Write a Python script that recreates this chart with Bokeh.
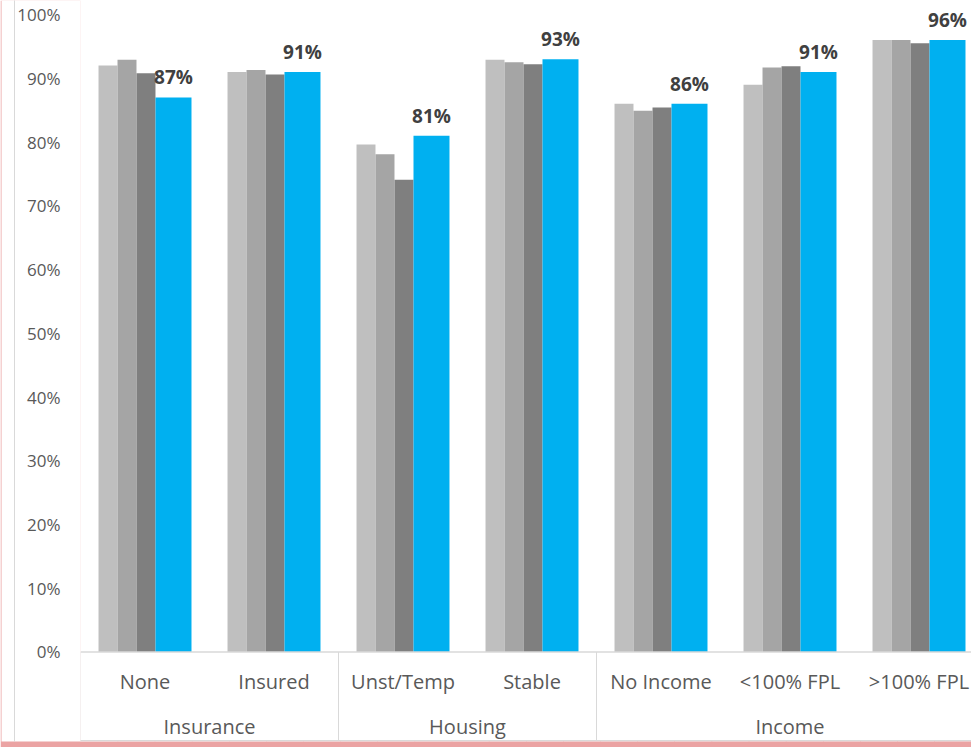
from bokeh.plotting import figure
from bokeh.models import (ColumnDataSource, FixedTicker, NumeralTickFormatter, Range1d,
                          Span, BoxAnnotation, LinearAxis)
from bokeh.transform import dodge
from bokeh.core.properties import value
from bokeh.embed import file_html
from bokeh.resources import INLINE

# ---------------- data ----------------
categories = ["None", "Insured", "Unst/Temp", "Stable", "No Income", "<100% FPL", ">100% FPL"]
groups = ["Insurance", "Housing", "Income"]
group_sizes = [2, 2, 3]
series_1 = [0.920, 0.910, 0.796, 0.929, 0.860, 0.890, 0.960]
series_2 = [0.929, 0.913, 0.781, 0.925, 0.849, 0.917, 0.960]
series_3 = [0.908, 0.906, 0.741, 0.922, 0.854, 0.919, 0.955]
series_4 = [0.87, 0.91, 0.81, 0.93, 0.86, 0.91, 0.96]
y_ticks = [0.0, 0.1, 0.2, 0.3, 0.4, 0.5, 0.6, 0.7, 0.8, 0.9, 1.0]

# ---------------- styles ----------------
GRAY1, GRAY2, GRAY3, BLUE = "#BFBFBF", "#A5A5A5", "#7F7F7F", "#00B0F0"
LINE = "#D9D9D9"
PINK_L = (235, 163, 163)
PINK_R = (224, 116, 116)
FONT = value("Open Sans")

def hexc(c):
    return "#%02X%02X%02X" % tuple(int(round(v)) for v in c)

idx = list(range(len(categories)))
src = ColumnDataSource(dict(
    x=idx, cat=categories, s1=series_1, s2=series_2, s3=series_3, s4=series_4,
    lab=["{:.0f}%".format(v * 100) for v in series_4],
))

Y_BOTTOM = -0.1404   # frame bottom (pixel row 741)
Y_TOP = 1.022
Y_BOX_BOTTOM = -0.1388

p = figure(width=971, height=747, output_backend="svg", toolbar_location=None,
           x_range=Range1d(-0.5, 6.407), y_range=Range1d(Y_BOTTOM, Y_TOP),
           x_axis_type=None, min_border_left=80, min_border_right=0,
           min_border_top=0, min_border_bottom=6)
p.outline_line_color = None
p.xgrid.visible = False
p.ygrid.visible = False
p.background_fill_color = "white"

ax = p.yaxis[0]
ax.ticker = FixedTicker(ticks=y_ticks)
ax.formatter = NumeralTickFormatter(format="0%")
ax.axis_line_color = None
ax.major_tick_line_color = None
ax.minor_tick_line_color = None
ax.major_tick_out = 0
ax.major_tick_in = 0
ax.major_label_standoff = 20
ax.major_label_text_font = "Open Sans"
ax.major_label_text_font_size = "17px"
ax.major_label_text_color = "#595959"
ax.axis_label = " "
ax.axis_label_text_font_size = "1px"
ax.axis_label_standoff = -4

# outer (empty) axis whose line is the thin vertical rule at the far left
ax2 = LinearAxis(ticker=FixedTicker(ticks=[]), axis_line_color=LINE, axis_line_width=1,
                 major_tick_line_color=None, minor_tick_line_color=None,
                 major_tick_out=0, major_tick_in=0, major_label_text_font_size="1px",
                 axis_label=" ", axis_label_text_font_size="1px", axis_label_standoff=9)
p.add_layout(ax2, "left")

has_bg = "background_fill_color" in ax.properties()
if has_bg:
    p.border_fill_color = hexc(PINK_L)
    for a in (ax, ax2):
        a.background_fill_color = "white"
        a.background_fill_alpha = 1
else:
    p.border_fill_color = "white"

gw = 0.147
p.vbar(x=dodge("x", -0.2868, range=p.x_range), top="s1", width=gw, bottom=0, source=src,
       fill_color=GRAY1, line_color=None)
p.vbar(x=dodge("x", -0.1395, range=p.x_range), top="s2", width=gw, bottom=0, source=src,
       fill_color=GRAY2, line_color=None)
p.vbar(x=dodge("x", 0.0078, range=p.x_range), top="s3", width=gw, bottom=0, source=src,
       fill_color=GRAY3, line_color=None)
p.vbar(x=dodge("x", 0.2209, range=p.x_range), top="s4", width=0.279, bottom=0, source=src,
       fill_color=BLUE, line_color=None)

p.text(x=dodge("x", 0.2209, range=p.x_range), y="s4", text="lab", source=src,
       text_align="center", text_baseline="alphabetic", y_offset=-20,
       text_font=FONT, text_font_style="bold", text_font_size="19px", text_color="#404040")

# category axis (two levels)
p.text(x="x", y=-0.0463, text="cat", source=src, text_align="center",
       text_baseline="alphabetic", text_font=FONT, text_font_size="20px",
       text_color="#595959")
starts = []
s = 0
for n in group_sizes:
    starts.append(s)
    s += n
g_centers = [st + (n - 1) / 2 for st, n in zip(starts, group_sizes)]
p.text(x=g_centers, y=[-0.1169] * len(groups), text=groups, text_align="center",
       text_baseline="alphabetic", text_font=FONT, text_font_size="20px",
       text_color="#595959")
sep_x = [st - 0.5 for st in starts]
p.segment(x0=sep_x, x1=sep_x, y0=[0] * len(sep_x), y1=[Y_BOX_BOTTOM] * len(sep_x),
          line_color=LINE, line_width=1)
p.add_layout(Span(location=0, dimension="width", line_color=LINE, line_width=1.5))

# bottom rule and band (shaded left to right) inside the frame width
def canvas_box(l, r, t, b, color):
    p.add_layout(BoxAnnotation(left=l, right=r, top=t, bottom=b,
                               left_units="canvas", right_units="canvas",
                               top_units="canvas", bottom_units="canvas",
                               fill_color=color, fill_alpha=1, line_color=None))

canvas_box(0, 971, 739.5, 741, LINE)
steps = 24
for i in range(steps):
    t = (i + 0.5) / steps
    col = tuple(a + (b - a) * t for a, b in zip(PINK_L, PINK_R))
    l = 80 + (971 - 80) * i / steps
    r = 80 + (971 - 80) * (i + 1) / steps + 0.5
    canvas_box(l, r, 741, 747, hexc(col))

open("out.html", "w").write(file_html(p, INLINE))
